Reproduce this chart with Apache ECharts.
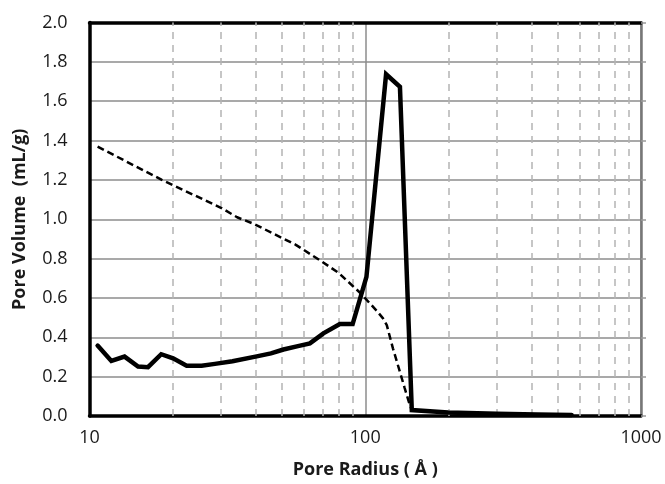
<!DOCTYPE html>
<html>
<head>
<meta charset="utf-8">
<script src="https://cdn.jsdelivr.net/npm/echarts@6/dist/echarts.min.js"></script>
<style>
html,body{margin:0;padding:0;background:#fff;}
#chart{width:665px;height:484px;}
</style>
</head>
<body>
<div id="chart"></div>
<script>
// Pore size distribution (solid) and cumulative pore volume (dashed)
var radiusSolid = [10.7, 12.0, 13.4, 15.0, 16.3, 18.2, 20.1, 22.5, 25.5, 28.5, 33, 40.4, 45.5, 50.5, 57, 63, 70.5, 80.9, 90, 101, 119, 133.6, 147.5, 200, 300, 420, 560];
var volumeSolid = [0.358, 0.28, 0.302, 0.251, 0.248, 0.314, 0.293, 0.256, 0.256, 0.265, 0.278, 0.303, 0.318, 0.338, 0.355, 0.369, 0.42, 0.467, 0.467, 0.707, 1.737, 1.673, 0.03, 0.018, 0.012, 0.008, 0.005];

var radiusCum = [10.7, 18.3, 30.1, 34.3, 39.5, 56, 69.6, 80.3, 96, 110, 116, 119.7, 126, 139, 145, 148];
var volumeCum = [1.369, 1.20, 1.057, 1.01, 0.976, 0.87, 0.785, 0.726, 0.625, 0.535, 0.496, 0.462, 0.344, 0.142, 0.057, 0.025];

var minorGridX = [20, 30, 40, 50, 60, 70, 80, 90, 200, 300, 400, 500, 600, 700, 800, 900];
var yTicks = {min: 0, max: 2.0, interval: 0.2};
var xRange = {min: 10, max: 1000};

function pairs(xs, ys) { return xs.map(function (x, i) { return [x, ys[i]]; }); }

var fontFam = '"Open Sans", "Noto Sans", sans-serif';
var chart = echarts.init(document.getElementById('chart'));
chart.setOption({
  animation: false,
  backgroundColor: '#fff',
  grid: {left: 89.5, right: 24, top: 22.5, bottom: 66, containLabel: false},
  xAxis: [{
    type: 'log', logBase: 10, min: xRange.min, max: xRange.max,
    name: 'Pore Radius ( Å )', nameLocation: 'middle', nameGap: 45,
    nameTextStyle: {fontFamily: fontFam, fontSize: 18, fontWeight: 'bold', color: '#1a1a1a'},
    axisLine: {show: true, onZero: false, lineStyle: {color: '#000', width: 3.5}},
    axisTick: {show: false},
    axisLabel: {fontFamily: fontFam, fontSize: 18, color: '#1a1a1a', margin: 13,
      formatter: function (v) { return String(Math.round(v)); }},
    splitLine: {show: true, lineStyle: {color: '#8c8c8c', width: 1.5}},
    minorTick: {show: false}, minorSplitLine: {show: false}
  }, {
    type: 'log', logBase: 10, min: xRange.min, max: xRange.max, position: 'top',
    axisLine: {show: true, onZero: false, lineStyle: {color: '#000', width: 3.5}},
    axisTick: {show: false}, axisLabel: {show: false}, splitLine: {show: false}
  }],
  yAxis: [{
    type: 'value', min: yTicks.min, max: yTicks.max, interval: yTicks.interval,
    name: 'Pore Volume  (mL/g)', nameLocation: 'middle', nameGap: 61,
    nameTextStyle: {fontFamily: fontFam, fontSize: 18, fontWeight: 'bold', color: '#1a1a1a'},
    axisLine: {show: true, lineStyle: {color: '#000', width: 3.5}},
    axisTick: {show: false},
    axisLabel: {fontFamily: fontFam, fontSize: 18, color: '#1a1a1a', margin: 22,
      formatter: function (v) { return v.toFixed(1); }},
    splitLine: {show: true, lineStyle: {color: '#8c8c8c', width: 1.5}}
  }, {
    type: 'value', min: yTicks.min, max: yTicks.max, interval: yTicks.interval, position: 'right',
    axisLine: {show: true, lineStyle: {color: '#777', width: 2.5}},
    axisTick: {show: true, inside: false, length: 5, lineStyle: {color: '#999', width: 1.5}},
    axisLabel: {show: false}, splitLine: {show: false}
  }],
  series: [{
    type: 'line', xAxisIndex: 0, yAxisIndex: 0,
    data: pairs(radiusCum, volumeCum),
    showSymbol: false, symbol: 'none', z: 3,
    lineStyle: {color: '#000', width: 2.5, type: [7, 4]},
    markLine: {
      silent: true, symbol: 'none', label: {show: false}, z: 1,
      lineStyle: {color: '#b4b4b4', width: 1.5, type: [7, 6]},
      data: minorGridX.map(function (v) { return {xAxis: v}; })
    }
  }, {
    type: 'line', xAxisIndex: 0, yAxisIndex: 0,
    data: pairs(radiusSolid, volumeSolid),
    showSymbol: false, symbol: 'none', z: 4,
    lineStyle: {color: '#000', width: 4.5, join: 'miter', cap: 'round'}
  }]
});
</script>
</body>
</html>
